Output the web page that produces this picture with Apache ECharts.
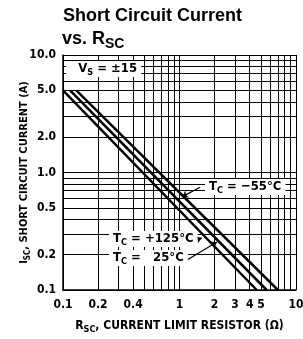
<!DOCTYPE html>
<html>
<head>
<meta charset="utf-8">
<script src="https://cdn.jsdelivr.net/npm/echarts@6/dist/echarts.min.js"></script>
<style>
  html, body { margin: 0; padding: 0; background: #fff; }
  #main { width: 303px; height: 339px; }
</style>
</head>
<body>
<div id="main"></div>
<script>
var FONT = "'DejaVu Sans Condensed', 'Liberation Sans Narrow', 'Liberation Sans', sans-serif";

// R_SC (ohm) vs I_SC (A), each curve read at its start and end
var curve125 = [[0.1, 5.0], [4.6, 0.1]];    // Tc = +125°C
var curve25 = [[0.115, 5.0], [5.6, 0.1]];   // Tc = 25°C
var curveM55 = [[0.13, 5.0], [7.0, 0.1]];   // Tc = -55°C

// grid lines and labels
var xGrid = [0.1, 0.2, 0.3, 0.4, 0.5, 0.6, 0.7, 0.8, 0.9, 1, 2, 3, 4, 5, 6, 7, 8, 9, 10];
var xTicks = [0.1, 0.2, 0.4, 1, 2, 3, 4, 5, 10];
var xTickLabels = ['0.1', '0.2', '0.4', '1', '2', '3', '4', '5', '10'];
var yGrid = [0.1, 0.2, 0.3, 0.4, 0.5, 0.6, 0.7, 0.8, 0.9, 1, 2, 3, 4, 5, 6, 7, 8, 9, 10];
var yTicks = [0.1, 0.2, 0.5, 1, 2, 5, 10];
var yTickLabels = ['0.1', '0.2', '0.5', '1.0', '2.0', '5.0', '10.0'];

// annotation arrows [tail, tip]
var arrowM55 = [[1.5, 0.75], [1.05, 0.62]];
var arrow125 = [[1.12, 0.25], [1.56, 0.277]];
var arrow25 = [[1.16, 0.18], [2.1, 0.256]];

function lookup(ticks, labels, v) {
    for (var i = 0; i < ticks.length; i++) {
        if (Math.abs(ticks[i] - v) / ticks[i] < 1e-6) return labels[i];
    }
    return '';
}

// subscript trick: main text lifted with bottom padding
function subRich(size, subSize, bg) {
    var back = bg || 'transparent';
    return {
        n: { fontSize: size, fontWeight: 'bold', fontFamily: FONT, color: '#000', verticalAlign: 'bottom', backgroundColor: back, padding: [1, 0, Math.round(size * 0.18), 0] },
        s: { fontSize: subSize, fontWeight: 'bold', fontFamily: FONT, color: '#000', verticalAlign: 'bottom', backgroundColor: back, padding: [4, 0, 0, 0] }
    };
}

var chart = echarts.init(document.getElementById('main'), null, { renderer: 'canvas' });

var lineStyle = { color: '#000', width: 2.5 };

function arrowLine(a) {
    return {
        silent: true,
        symbol: ['none', 'arrow'],
        symbolSize: 6,
        lineStyle: { color: '#000', width: 1.2, type: 'solid' },
        label: { show: false },
        data: [[{ coord: a[0] }, { coord: a[1] }]]
    };
}

var option = {
    animation: false,
    backgroundColor: '#fff',
    grid: { left: 63, right: 7, top: 55, bottom: 49, containLabel: false, outerBoundsMode: 'none' },
    xAxis: {
        type: 'log',
        logBase: 10,
        min: 0.1,
        max: 10,
        name: '{n|R}{s|SC}{n|, CURRENT LIMIT RESISTOR (Ω)}',
        nameLocation: 'middle',
        nameGap: 29,
        nameMoveOverlap: false,
        nameTextStyle: { rich: subRich(12, 9) },
        axisLine: { show: true, lineStyle: { color: '#000', width: 1.5 } },
        axisTick: { show: false, customValues: xGrid },
        axisLabel: {
            customValues: xTicks,
            margin: 9,
            fontSize: 12,
            fontWeight: 'bold',
            fontFamily: FONT,
            color: '#000',
            formatter: function (v) { return lookup(xTicks, xTickLabels, v); }
        },
        splitLine: { show: true, lineStyle: { color: '#000', width: 1 } },
        minorTick: { show: false },
        minorSplitLine: { show: false }
    },
    yAxis: {
        type: 'log',
        logBase: 10,
        min: 0.1,
        max: 10,
        name: '{n|I}{s|SC}{n|, SHORT CIRCUIT CURRENT (A)}',
        nameLocation: 'middle',
        nameRotate: 90,
        nameGap: 31,
        nameMoveOverlap: false,
        nameTextStyle: { rich: subRich(11, 8) },
        axisLine: { show: true, lineStyle: { color: '#000', width: 1.5 } },
        axisTick: { show: false, customValues: yGrid },
        axisLabel: {
            customValues: yTicks,
            margin: 7,
            fontSize: 12,
            fontWeight: 'bold',
            fontFamily: FONT,
            color: '#000',
            formatter: function (v) { return lookup(yTicks, yTickLabels, v); }
        },
        splitLine: { show: true, lineStyle: { color: '#000', width: 1 } }
    },
    series: [
        { name: '+125', type: 'line', data: curve125, symbol: 'none', lineStyle: lineStyle, z: 3, markLine: arrowLine(arrow125) },
        { name: '25', type: 'line', data: curve25, symbol: 'none', lineStyle: lineStyle, z: 3, markLine: arrowLine(arrow25) },
        { name: '-55', type: 'line', data: curveM55, symbol: 'none', lineStyle: lineStyle, z: 3, markLine: arrowLine(arrowM55) }
    ],
    graphic: [
        {
            type: 'text', left: 63, top: 7, z: 10,
            style: { text: 'Short Circuit Current', fontSize: 18, fontWeight: 'bold', fontFamily: "'Liberation Sans', Arial, sans-serif", fill: '#000' }
        },
        {
            type: 'text', left: 62, top: 30, z: 10,
            style: { text: '{n|vs. R}{s|SC}', rich: {
                n: { fontSize: 18, fontWeight: 'bold', fontFamily: "'Liberation Sans', Arial, sans-serif", color: '#000', verticalAlign: 'bottom', padding: [0, 0, 3, 0] },
                s: { fontSize: 14, fontWeight: 'bold', fontFamily: "'Liberation Sans', Arial, sans-serif", color: '#000', verticalAlign: 'bottom' }
            } }
        },
        {
            type: 'text', left: 66, top: 61, z: 10,
            style: { text: '{n|   V}{s|S}{n| = ±15 }', rich: subRich(13, 9, '#fff') }
        },
        {
            type: 'text', left: 205, top: 179, z: 10,
            style: { text: '{n| T}{s|C}{n| = −55°C }', rich: subRich(13, 9, '#fff') }
        },
        {
            type: 'text', left: 109, top: 231, z: 10,
            style: { text: '{n| T}{s|C}{n| = +125°C }', rich: subRich(13, 9, '#fff') }
        },
        {
            type: 'text', left: 109, top: 250, z: 10,
            style: { text: '{n| T}{s|C}{n| =   25°C }', rich: subRich(13, 9, '#fff') }
        }
    ]
};

chart.setOption(option);
</script>
</body>
</html>
